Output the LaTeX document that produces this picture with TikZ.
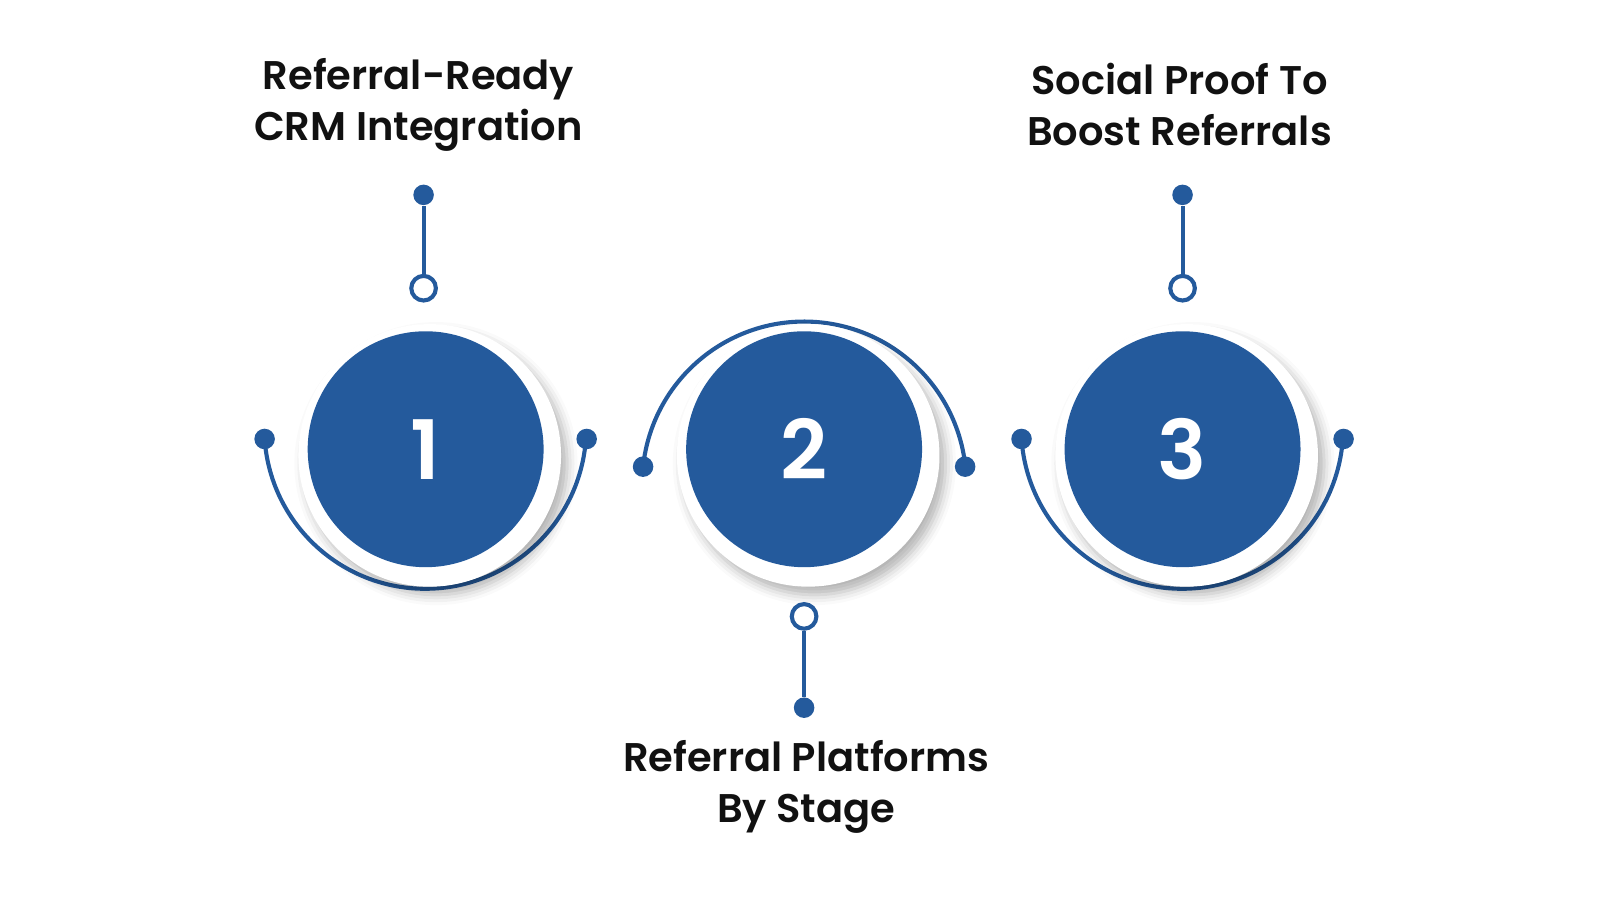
\documentclass[tikz,border=0pt]{standalone}
\usepackage{fontspec}
\setmainfont{Poppins}[BoldFont={Poppins SemiBold}]
\usetikzlibrary{shadows.blur}
\definecolor{cb}{HTML}{245A9C}
\definecolor{tx}{HTML}{111111}
\begin{document}
\begin{tikzpicture}[x=0.5pt,y=-0.5pt,
  ring/.style={circle,fill=white,minimum size=128pt,inner sep=0,blur shadow={shadow xshift=3pt,shadow yshift=-4pt,shadow blur radius=5pt,shadow opacity=30}},
  disc/.style={circle,fill=cb,minimum size=115pt,inner sep=0,text=white,font=\bfseries\fontsize{40}{40}\selectfont},
  arcl/.style={draw=cb,line width=2pt},
  dot/.style={circle,fill=cb,minimum size=10pt,inner sep=0},
  odot/.style={circle,draw=cb,fill=white,line width=2pt,minimum size=12pt,inner sep=0},
  lbl/.style={align=center,text=tx,font=\bfseries\fontsize{19.5}{25}\selectfont}]
\useasboundingbox (0,0) rectangle (1560,878);
% circle 1
\draw[arcl] (258,428) arc[start angle=176,end angle=4,radius=157];
\node[ring] (r1) at (419,444) {};
\node[disc] (c1) at (415,438) {1};
\node[dot] (l1) at (258,428) {};
\node[dot] (rr1) at (572,428) {};
\node[dot] (t1) at (413,190) {};
\node[odot] (o1) at (413,281) {};
\draw[arcl] (o1) -- (t1);
% circle 2
\draw[arcl] (627,455) arc[start angle=186,end angle=354,radius=158];
\node[ring] (r2) at (788,444) {};
\node[disc] (c2) at (784,438) {2};
\node[dot] (l2) at (627,455) {};
\node[dot] (rr2) at (941,455) {};
\node[dot] (t2) at (784,690) {};
\node[odot] (o2) at (784,601) {};
\draw[arcl] (o2) -- (t2);
% circle 3
\draw[arcl] (996,428) arc[start angle=176,end angle=4,radius=157];
\node[ring] (r3) at (1157,444) {};
\node[disc] (c3) at (1153,438) {3};
\node[dot] (l3) at (996,428) {};
\node[dot] (rr3) at (1310,428) {};
\node[dot] (t3) at (1153,190) {};
\node[odot] (o3) at (1153,281) {};
\draw[arcl] (o3) -- (t3);
% labels
\node[lbl] (a) at (408,102) {Referral-Ready\\CRM Integration};
\node[lbl] (b) at (1150,102) {Social Proof To\\Boost Referrals};
\node[lbl] (c) at (786,767) {Referral Platforms\\By Stage};
\end{tikzpicture}
\end{document}
